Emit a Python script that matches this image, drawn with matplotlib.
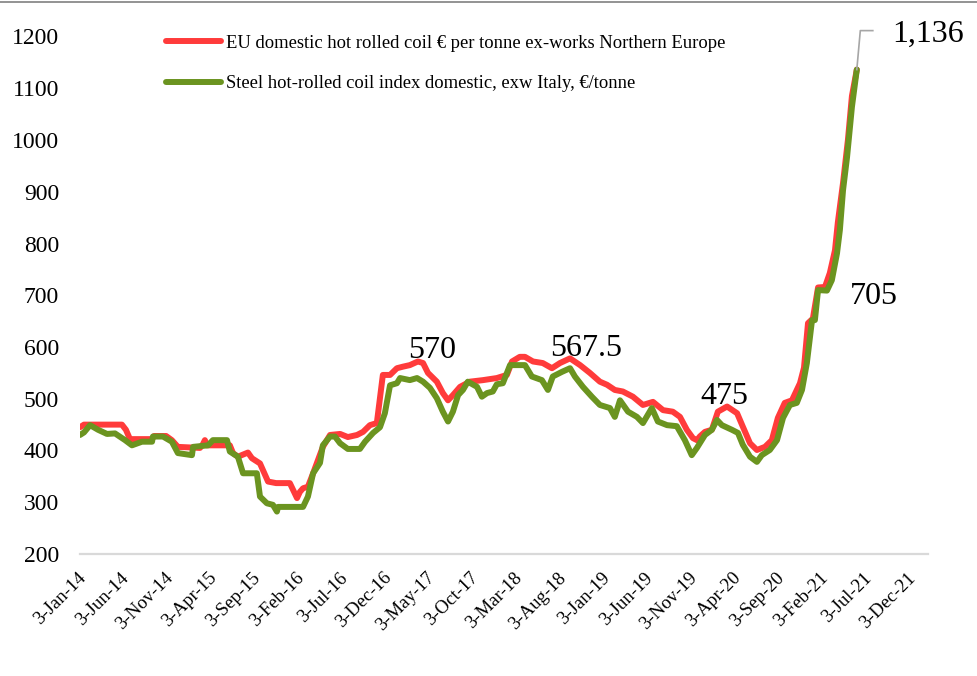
import matplotlib
matplotlib.use("Agg")
import matplotlib.pyplot as plt
import matplotlib.dates as mdates
import matplotlib.transforms as mtransforms
import pandas as pd
import numpy as np

# ---------------- data ----------------
red_label = "EU domestic hot rolled coil \u20ac per tonne ex-works Northern Europe"
green_label = "Steel hot-rolled coil index domestic, exw Italy, \u20ac/tonne"

red_dates = ["2014-01-03", "2014-01-17", "2014-05-29", "2014-06-12", "2014-06-26", "2014-09-11",
             "2014-09-18", "2014-10-30", "2014-11-19", "2014-12-10", "2015-02-25", "2015-03-07",
             "2015-03-14", "2015-03-21", "2015-06-09", "2015-06-20", "2015-07-07", "2015-08-11",
             "2015-08-25", "2015-09-22", "2015-10-20", "2015-11-17", "2016-01-04", "2016-01-29",
             "2016-02-08", "2016-02-19", "2016-03-07", "2016-03-25", "2016-04-28", "2016-05-23",
             "2016-06-27", "2016-07-24", "2016-08-25", "2016-09-15", "2016-10-09", "2016-11-02",
             "2016-11-23", "2016-12-18", "2017-01-11", "2017-02-01", "2017-02-25", "2017-03-25",
             "2017-04-12", "2017-04-29", "2017-05-30", "2017-06-20", "2017-07-08", "2017-07-25",
             "2017-08-19", "2017-09-22", "2017-11-07", "2017-12-25", "2018-01-29", "2018-02-16",
             "2018-03-15", "2018-04-02", "2018-04-30", "2018-06-03", "2018-07-05", "2018-08-02",
             "2018-09-06", "2018-10-11", "2018-11-14", "2018-12-19", "2019-01-13", "2019-02-09",
             "2019-03-09", "2019-04-13", "2019-05-18", "2019-06-22", "2019-07-27", "2019-08-30",
             "2019-09-24", "2019-10-18", "2019-11-08", "2019-11-22", "2019-12-02", "2019-12-20",
             "2020-01-13", "2020-02-03", "2020-03-06", "2020-04-10", "2020-04-30", "2020-05-25",
             "2020-06-18", "2020-07-16", "2020-08-09", "2020-08-30", "2020-09-23", "2020-10-18",
             "2020-11-15", "2020-11-29", "2020-12-13", "2020-12-30", "2021-01-17", "2021-02-10",
             "2021-02-27", "2021-03-17", "2021-03-27", "2021-04-14", "2021-05-01", "2021-05-15",
             "2021-06-01"]
red_vals = [445, 450, 450, 440, 422, 422,
            428, 428, 420, 407, 405, 412,
            420, 410, 410, 395, 388, 396,
            385, 375, 340, 337, 337, 308,
            320, 327, 330, 356, 407, 430,
            432, 426, 430, 436, 449, 453,
            546, 546, 559, 562, 565, 572,
            569, 550, 533, 511, 497, 507,
            523, 533, 536, 540, 546, 572,
            581, 581, 572, 569, 559, 569,
            578, 565, 550, 533, 527, 517,
            514, 504, 488, 494, 478, 475,
            465, 440, 424, 420, 427, 436,
            440, 475, 485, 472, 446, 414,
            401, 407, 420, 463, 492, 497,
            530, 560, 646, 655, 715, 716,
            743, 787, 841, 917, 1000, 1085,
            1136]

green_dates = ["2014-01-03", "2014-01-17", "2014-02-07", "2014-03-07", "2014-04-07", "2014-05-05",
               "2014-06-09", "2014-07-03", "2014-08-07", "2014-09-11", "2014-09-14", "2014-10-19",
               "2014-11-19", "2014-12-10", "2015-01-28", "2015-02-01", "2015-03-25", "2015-04-11",
               "2015-05-30", "2015-06-09", "2015-07-07", "2015-07-25", "2015-09-11", "2015-09-22",
               "2015-10-16", "2015-11-06", "2015-11-20", "2015-11-24", "2016-02-19", "2016-03-07",
               "2016-03-25", "2016-04-18", "2016-04-28", "2016-05-23", "2016-06-09", "2016-06-27",
               "2016-07-24", "2016-09-04", "2016-09-22", "2016-10-20", "2016-11-13", "2016-11-30",
               "2016-12-18", "2017-01-11", "2017-01-22", "2017-02-25", "2017-03-22", "2017-04-12",
               "2017-05-06", "2017-05-30", "2017-06-20", "2017-07-08", "2017-07-25", "2017-08-12",
               "2017-08-29", "2017-09-15", "2017-10-17", "2017-11-03", "2017-11-21", "2017-12-11",
               "2017-12-25", "2018-01-15", "2018-02-09", "2018-04-02", "2018-04-26", "2018-05-31",
               "2018-06-21", "2018-07-08", "2018-08-09", "2018-09-06", "2018-09-23", "2018-10-21",
               "2018-11-21", "2018-12-19", "2019-01-23", "2019-02-09", "2019-02-27", "2019-03-27",
               "2019-04-27", "2019-05-18", "2019-06-18", "2019-07-09", "2019-08-10", "2019-09-13",
               "2019-10-11", "2019-11-04", "2019-11-22", "2019-12-20", "2020-01-13", "2020-01-31",
               "2020-02-17", "2020-03-23", "2020-04-13", "2020-04-30", "2020-05-25", "2020-06-18",
               "2020-07-05", "2020-08-02", "2020-08-27", "2020-09-17", "2020-10-11", "2020-11-04",
               "2020-11-22", "2020-12-09", "2020-12-27", "2021-01-06", "2021-01-17", "2021-02-17",
               "2021-03-06", "2021-03-24", "2021-04-03", "2021-04-14", "2021-04-28", "2021-05-15",
               "2021-06-01"]
green_vals = [430, 435, 449, 440, 432, 433,
              420, 410, 417, 417, 427, 427,
              417, 395, 391, 407, 410, 420,
              420, 398, 388, 356, 356, 311,
              298, 295, 282, 291, 291, 311,
              356, 376, 410, 427, 427, 414,
              403, 403, 417, 434, 445, 472,
              526, 530, 540, 536, 540, 533,
              521, 501, 475, 456, 475, 507,
              517, 533, 523, 504, 511, 514,
              528, 530, 565, 565, 543, 536,
              517, 543, 552, 559, 543, 523,
              504, 488, 482, 465, 497, 475,
              465, 453, 482, 456, 449, 447,
              420, 391, 405, 430, 440, 459,
              449, 440, 434, 411, 388, 378,
              391, 401, 420, 463, 488, 492,
              517, 569, 652, 652, 710, 709,
              729, 781, 826, 903, 967, 1064,
              1136]

tick_dates = ["2014-01-03", "2014-06-03", "2014-11-03", "2015-04-03", "2015-09-03", "2016-02-03",
              "2016-07-03", "2016-12-03", "2017-05-03", "2017-10-03", "2018-03-03", "2018-08-03",
              "2019-01-03", "2019-06-03", "2019-11-03", "2020-04-03", "2020-09-03", "2021-02-03",
              "2021-07-03", "2021-12-03"]
y_ticks = [200, 300, 400, 500, 600, 700, 800, 900, 1000, 1100, 1200]

annot_texts = ["570", "567.5", "475", "705"]
annot_dates = ["2017-05-13", "2018-11-01", "2020-02-27", "2021-07-31"]
annot_vals = [594, 598, 505, 698]
last_label = "1,136"

# ---------------- style ----------------
plt.rcParams['font.family'] = ['Liberation Serif', 'DejaVu Serif']
RED = "#FF3B3B"
GREEN = "#6B9420"

fig = plt.figure(figsize=(9.78, 6.76), dpi=100)
ax = fig.add_axes([80 / 978, (676 - 554) / 676, 848 / 978, (554 - 36.5) / 676])

rd = pd.to_datetime(red_dates)
gd = pd.to_datetime(green_dates)
ax.plot(rd, red_vals, color=RED, lw=4.3, solid_joinstyle='round', solid_capstyle='round',
        label=red_label, zorder=3)
ax.plot(gd, green_vals, color=GREEN, lw=4.3, solid_joinstyle='round', solid_capstyle='round',
        label=green_label, zorder=4)

ax.set_ylim(200, 1200)
ax.set_xlim(pd.Timestamp("2014-01-03"), pd.Timestamp("2022-02-04"))
ax.set_yticks(y_ticks)
ax.set_yticklabels([str(v) for v in y_ticks], fontsize=17)
td = pd.to_datetime(tick_dates)
ax.set_xticks(td)
ax.set_xticklabels([d.strftime("%-d-%b-%y") for d in td], fontsize=13.5,
                   rotation=45, ha='right', va='top', rotation_mode='anchor')
ax.tick_params(axis='both', length=0)
ax.tick_params(axis='y', pad=15)
ax.tick_params(axis='x', pad=11)
shift = mtransforms.ScaledTranslation(-3 / 100, 0, fig.dpi_scale_trans)
for lab in ax.get_xticklabels():
    lab.set_transform(lab.get_transform() + shift)
for s in ['top', 'right', 'left']:
    ax.spines[s].set_visible(False)
ax.spines['bottom'].set_color('#D9D9D9')
ax.spines['bottom'].set_linewidth(1.6)

leg = ax.legend(loc='upper left', bbox_to_anchor=(166 / 978, 1 - 34.5 / 676),
                bbox_transform=fig.transFigure, frameon=False, fontsize=13.4,
                handlelength=2.95, handletextpad=0.27, labelspacing=1.28,
                borderpad=0, borderaxespad=0)

for t, d, v in zip(annot_texts, annot_dates, annot_vals):
    ax.text(pd.Timestamp(d), v, t, fontsize=23, ha='center', va='center', color='black')

# leader line and label for the last value
last_x = mdates.date2num(rd[-1])
last_y = red_vals[-1]
p0 = ax.transData.transform((last_x, last_y))
inv = ax.transData.inverted()
p1 = inv.transform(p0 + np.array([3.5, 39.0]))
p2 = inv.transform(p0 + np.array([16.0, 39.0]))
ax.plot([last_x, p1[0], p2[0]], [last_y, p1[1], p2[1]], color='#A6A6A6', lw=1.2,
        clip_on=False, zorder=5)
pt = inv.transform(p0 + np.array([35.0, 35.0]))
ax.text(pt[0], pt[1], last_label, fontsize=23, ha='left', va='center', clip_on=False)

# top border line of the figure
fig.add_artist(plt.Line2D([0, 1], [1 - 1.5 / 676, 1 - 1.5 / 676], color='#808080', lw=1.2,
                          transform=fig.transFigure))

fig.savefig("out.png", dpi=100)
